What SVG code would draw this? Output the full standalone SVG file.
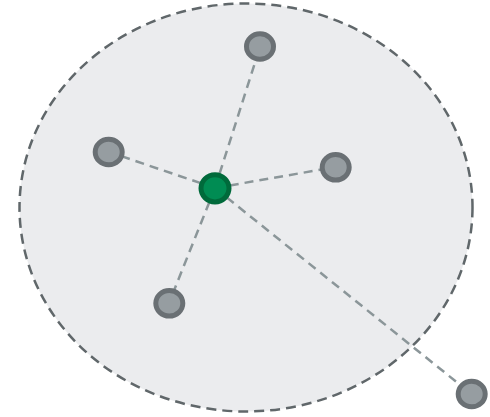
<svg xmlns="http://www.w3.org/2000/svg" width="490" height="417" viewBox="0 0 490 417">
<style>
.area{fill:#ebecee;stroke:#60676a;stroke-width:2.5;stroke-dasharray:10 6}
.edge{stroke:#8b9699;stroke-width:2.5;stroke-dasharray:9 6;fill:none}
.node{fill:#969da1;stroke:#6a7074;stroke-width:5}
.hub{fill:#008c53;stroke:#006a3b;stroke-width:5}
</style>
<rect width="490" height="417" fill="#ffffff"/>
<g id="area"><ellipse class="area" cx="246" cy="207.5" rx="226.5" ry="204"/></g>
<g id="connectors">
<line class="edge" x1="215" y1="188" x2="260" y2="47"/>
<line class="edge" x1="215" y1="188" x2="109" y2="152"/>
<line class="edge" x1="215" y1="188" x2="336" y2="167"/>
<line class="edge" x1="215" y1="188" x2="169" y2="303"/>
<line class="edge" x1="215" y1="188" x2="471.5" y2="394"/>
</g>
<g id="n1"><ellipse class="node" cx="260" cy="46.5" rx="13.5" ry="12.8"/></g>
<g id="n2"><ellipse class="node" cx="108.7" cy="152" rx="13.5" ry="12.8"/></g>
<g id="n3"><ellipse class="node" cx="335.7" cy="167.3" rx="13.5" ry="12.8"/></g>
<g id="n4"><ellipse class="node" cx="169.3" cy="303.3" rx="13.5" ry="12.8"/></g>
<g id="n5"><ellipse class="node" cx="471.7" cy="394" rx="13.5" ry="12.8"/></g>
<g id="hub"><ellipse class="hub" cx="215" cy="188.3" rx="14" ry="13.6"/></g>
</svg>
